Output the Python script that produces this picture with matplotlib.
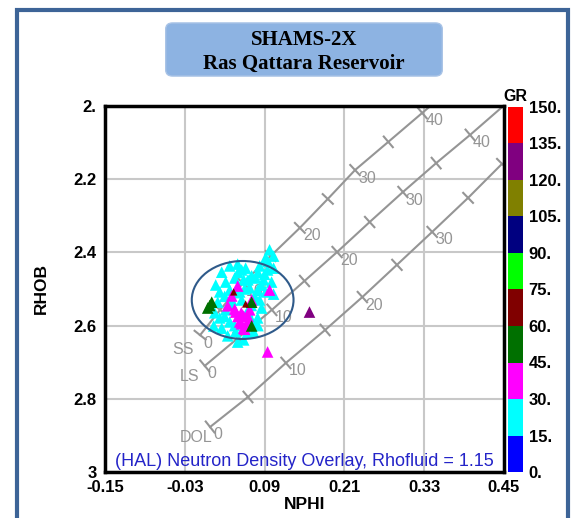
import numpy as np
import matplotlib
matplotlib.use("Agg")
import matplotlib.pyplot as plt
from matplotlib.colors import ListedColormap, BoundaryNorm
from matplotlib.patches import Ellipse, FancyBboxPatch, Rectangle
import matplotlib.colorbar as mcolorbar

plt.rcParams['font.family'] = ['Liberation Sans', 'DejaVu Sans']

# ---------------- data ----------------
x_ticks = [-0.15, -0.03, 0.09, 0.21, 0.33, 0.45]
x_tick_labels = ["-0.15", "-0.03", "0.09", "0.21", "0.33", "0.45"]
y_ticks = [2.0, 2.2, 2.4, 2.6, 2.8, 3.0]
y_tick_labels = ["2.", "2.2", "2.4", "2.6", "2.8", "3"]

gr_bounds = [0, 15, 30, 45, 60, 75, 90, 105, 120, 135, 150]
gr_labels = ["0.", "15.", "30.", "45.", "60.", "75.", "90.", "105.", "120.", "135.", "150."]
gr_colors = ["#0000ff", "#00ffff", "#ff00ff", "#007000", "#800000",
             "#00ff00", "#000080", "#808000", "#800080", "#ff0000"]

# lithology lines: porosity (pu) at 5 pu steps, NPHI and RHOB
por_pu = [0, 5, 10, 15, 20, 25, 30, 35, 40, 45]
ss_nphi = [-0.007, 0.023, 0.0575, 0.099, 0.143, 0.185, 0.226, 0.276, 0.327, 0.378]
ss_rhob = [2.626, 2.557, 2.484, 2.410, 2.333, 2.254, 2.175, 2.098, 2.019, 1.940]
ls_nphi = [0.0, 0.050, 0.101, 0.150, 0.199, 0.248, 0.298, 0.348, 0.399, 0.449]
ls_rhob = [2.710, 2.634, 2.557, 2.478, 2.399, 2.317, 2.235, 2.156, 2.079, 2.000]
dol_nphi = [0.008, 0.065, 0.122, 0.181, 0.237, 0.289, 0.342, 0.396, 0.447]
dol_rhob = [2.877, 2.795, 2.702, 2.612, 2.522, 2.434, 2.344, 2.251, 2.158]

# well log points (cyan GR~22, magenta ~38, green ~52, dark red ~68, purple ~128)
cyan_nphi = [0.0255, 0.0375, 0.0495, 0.0615, 0.0315, 0.045, 0.0585, 0.0705, 0.0225, 0.0375,
             0.0525, 0.0675, 0.0795, 0.0765, 0.0825, 0.0915, 0.0975, 0.1035, 0.0945, 0.1035,
             0.0885, 0.1005, 0.0915, 0.1035, 0.0825, 0.0195, 0.0315, 0.0225, 0.0375, 0.0255,
             0.0345, 0.0465, 0.0585, 0.0495, 0.0735, 0.0795, 0.0855, 0.0405, 0.0555, 0.0165,
             0.0555, 0.0135, 0.0645, 0.0705,
             0.030, 0.045, 0.060, 0.075, 0.085, 0.065, 0.050, 0.080, 0.095, 0.090,
             0.070, 0.080, 0.065, 0.045, 0.030, 0.015, 0.040]
cyan_rhob = [2.454, 2.437, 2.432, 2.443, 2.481, 2.470, 2.475, 2.464, 2.508, 2.503,
             2.508, 2.497, 2.503, 2.470, 2.437, 2.415, 2.393, 2.410, 2.448, 2.443,
             2.475, 2.481, 2.508, 2.514, 2.530, 2.536, 2.557, 2.579, 2.590, 2.607,
             2.628, 2.617, 2.639, 2.645, 2.617, 2.579, 2.552, 2.530, 2.530, 2.489,
             2.448, 2.601, 2.560, 2.585,
             2.520, 2.510, 2.500, 2.520, 2.490, 2.475, 2.455, 2.455, 2.425, 2.460,
             2.545, 2.600, 2.620, 2.600, 2.575, 2.565, 2.540]
mag_nphi = [0.0345, 0.0465, 0.0585, 0.0525, 0.0645, 0.0585, 0.0675, 0.0495, 0.0405, 0.0975,
            0.0945, 0.0705, 0.055, 0.060, 0.065, 0.050, 0.045, 0.062, 0.055]
mag_rhob = [2.546, 2.563, 2.574, 2.590, 2.590, 2.607, 2.557, 2.492, 2.519, 2.503,
            2.672, 2.530, 2.595, 2.610, 2.575, 2.575, 2.555, 2.600, 2.565]
green_nphi = [0.0045, 0.0105, 0.0705, 0.0705, 0.0075]
green_rhob = [2.552, 2.536, 2.536, 2.601, 2.545]
red_nphi = [0.0435, 0.0615]
red_rhob = [2.508, 2.541]
purple_nphi = [0.1575]
purple_rhob = [2.563]

nphi = cyan_nphi + mag_nphi + green_nphi + red_nphi + purple_nphi
rhob = cyan_rhob + mag_rhob + green_rhob + red_rhob + purple_rhob
gr = ([22] * len(cyan_nphi) + [38] * len(mag_nphi) + [52] * len(green_nphi)
      + [68] * len(red_nphi) + [128] * len(purple_nphi))

# ---------------- figure ----------------
W, H = 575, 518
fig = plt.figure(figsize=(W / 100, H / 100), dpi=100)

# outer frame
fig.patches.append(Rectangle((17 / W, -0.05), (568 - 17) / W, 1.05 - 10 / H,
                             transform=fig.transFigure, fill=False,
                             edgecolor="#3d6497", linewidth=3, zorder=0))

# title box
fig.patches.append(FancyBboxPatch((168 / W, (518 - 74) / H), 272 / W, 49 / H,
                                  boxstyle="round,pad=0.004,rounding_size=0.012",
                                  transform=fig.transFigure, facecolor="#8db3e2",
                                  edgecolor="#aac4e6", linewidth=1))
fig.text(304 / W, (518 - 40) / H, "SHAMS-2X", ha="center", va="center",
         family="Liberation Serif", fontweight="bold", fontsize=15)
fig.text(304 / W, (518 - 64) / H, "Ras Qattara Reservoir", ha="center", va="center",
         family="Liberation Serif", fontweight="bold", fontsize=15)

ax = fig.add_axes([105 / W, (518 - 472) / H, 399 / W, 366 / H])
ax.set_xlim(-0.15, 0.45)
ax.set_ylim(3.0, 2.0)
ax.set_xticks(x_ticks)
ax.set_xticklabels(x_tick_labels)
ax.set_yticks(y_ticks)
ax.set_yticklabels(y_tick_labels)
ax.tick_params(length=0, labelsize=12, pad=6)
for lab in ax.get_xticklabels() + ax.get_yticklabels():
    lab.set_fontweight("bold")
ax.grid(True, color="#c8c8c8", linewidth=1.5)
ax.set_axisbelow(True)
for s in ax.spines.values():
    s.set_linewidth(2.5)
    s.set_color("black")
ax.set_xlabel("NPHI", fontweight="bold", fontsize=12.5, labelpad=1)
ax.set_ylabel("RHOB", fontweight="bold", fontsize=12.5, labelpad=18)

line_col = "#959595"


def draw_litho(xs, ys, name, name_xy):
    ax.plot(xs, ys, color=line_col, linewidth=1.5, zorder=2)
    pts = ax.transData.transform(np.column_stack([xs, ys]))
    inv = ax.transData.inverted()
    for i in range(len(xs)):
        j0, j1 = max(i - 1, 0), min(i + 1, len(xs) - 1)
        d = pts[j1] - pts[j0]
        d = d / np.hypot(*d)
        n = np.array([-d[1], d[0]])
        a = inv.transform(pts[i] + n * 7)
        b = inv.transform(pts[i] - n * 7)
        ax.plot([a[0], b[0]], [a[1], b[1]], color=line_col, linewidth=1.5, zorder=2)
        if por_pu[i] % 10 == 0:
            ax.annotate(str(por_pu[i]), (xs[i], ys[i]), xytext=(3, -8),
                        textcoords="offset pixels", ha="left", va="center",
                        color=line_col, fontsize=11.5, annotation_clip=True,
                        clip_on=True, zorder=2)
    ax.text(name_xy[0], name_xy[1], name, color=line_col, fontsize=11.5,
            ha="center", va="center", zorder=2)


draw_litho(ss_nphi, ss_rhob, "SS", (-0.033, 2.664))
draw_litho(ls_nphi, ls_rhob, "LS", (-0.0225, 2.74))
draw_litho(dol_nphi, dol_rhob, "DOL", (-0.0135, 2.907))

cmap = ListedColormap(gr_colors)
norm = BoundaryNorm(gr_bounds, cmap.N)
sizes = [70 if g < 60 or g > 100 else 28 for g in gr]
ax.scatter(nphi, rhob, c=gr, cmap=cmap, norm=norm, marker="^", s=sizes,
           linewidths=0, zorder=3)

ax.add_patch(Ellipse((0.057, 2.530), 0.153, 0.213, fill=False,
                     edgecolor="#2f5a8a", linewidth=1.5, zorder=4))

ax.text(0.5, 0.03, "(HAL) Neutron Density Overlay, Rhofluid = 1.15",
        transform=ax.transAxes, ha="center", va="center", color="#2424c8",
        fontsize=13, zorder=5)

# colorbar
cax = fig.add_axes([508 / W, (518 - 472) / H, 15 / W, 365 / H])
cb = mcolorbar.ColorbarBase(cax, cmap=cmap, norm=norm, boundaries=gr_bounds,
                            ticks=gr_bounds, spacing="proportional")
cb.outline.set_visible(False)
cax.set_yticklabels(gr_labels)
cax.tick_params(length=0, labelsize=12, pad=4)
for lab in cax.get_yticklabels():
    lab.set_fontweight("bold")
cax.set_title("GR", fontweight="bold", fontsize=11.5, pad=4)

fig.savefig("out.png", dpi=100)
